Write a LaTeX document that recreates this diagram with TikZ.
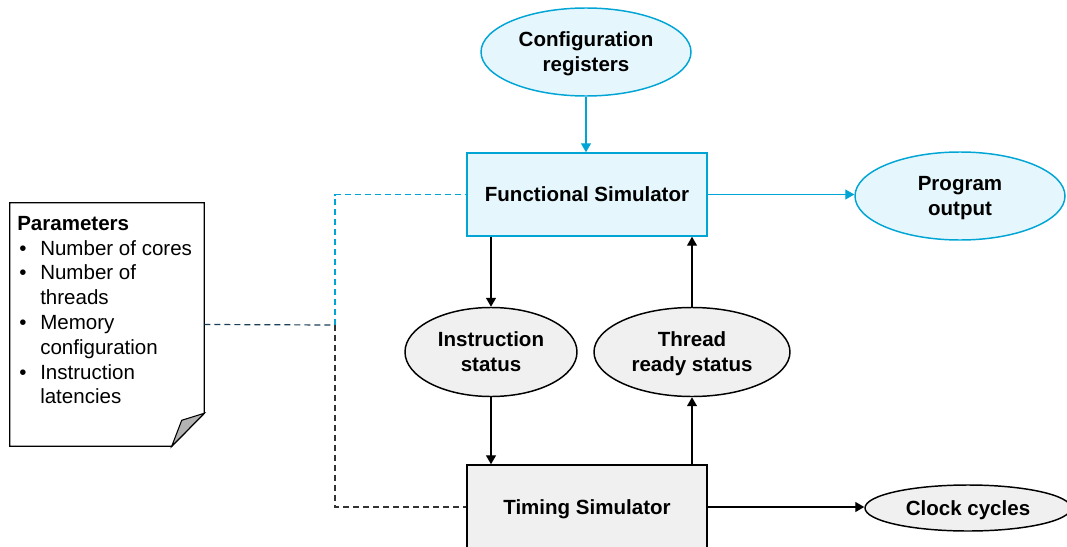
\documentclass[tikz,border=0pt]{standalone}
\usepackage{fontspec}
\setmainfont{Liberation Sans}
\usetikzlibrary{shapes.geometric,arrows.meta,calc}
\definecolor{cyanline}{HTML}{00A5D5}
\definecolor{cyanfill}{HTML}{E5F6FC}
\definecolor{grayfill}{HTML}{F0F0F0}
\definecolor{navydash}{HTML}{1A3E55}
\definecolor{darkdash}{HTML}{333333}
\newcommand{\bul}{\hspace*{1.5pt}\makebox[15.75pt][l]{\textbullet}}
\newcommand{\ind}{\hspace*{17.25pt}}
\begin{document}
\begin{tikzpicture}[x=0.75pt,y=-0.75pt,
  lbl/.style={font=\fontsize{15.4}{18.7}\selectfont\bfseries, align=center, text depth=0pt},
  bluebox/.style={rectangle, draw=cyanline, fill=cyanfill, line width=1.1pt, minimum width=180pt, minimum height=62.25pt, lbl},
  graybox/.style={rectangle, draw=black, fill=grayfill, line width=1.1pt, minimum width=180pt, minimum height=63pt, lbl},
  blueoval/.style={ellipse, draw=cyanline, fill=cyanfill, line width=1.1pt, inner sep=0pt, lbl},
  grayoval/.style={ellipse, draw=black, fill=grayfill, line width=1.1pt, inner sep=0pt, lbl},
  blueflow/.style={draw=cyanline, line width=1pt, -{Triangle[length=6.75pt,width=7.5pt]}},
  flow/.style={draw=black, line width=1pt, -{Triangle[length=6.75pt,width=7.5pt]}},
  dashlink/.style={line width=0.9pt, dash pattern=on 4.5pt off 3pt}
]
\useasboundingbox (0,0) rectangle (1067,546);
\begin{scope}
\clip (0,0) rectangle (1067,546);

% simulator blocks
\node[bluebox] (fs) at (587,194.5) {Functional Simulator};
\node[graybox] (ts) at (587,507) {Timing Simulator};

% data ovals
\node[blueoval, minimum width=157.5pt, minimum height=66pt] (cfg) at (586,52) {Configuration\\registers};
\node[blueoval, minimum width=157.5pt, minimum height=66pt] (out) at (960,196) {Program\\output};
\node[grayoval, minimum width=129pt, minimum height=66.75pt] (is) at (491,352) {Instruction\\status};
\node[grayoval, minimum width=147pt, minimum height=66.75pt] (tr) at (692,352) {Thread\\ready status};
\node[grayoval, minimum width=154.5pt, minimum height=34.5pt] (cc) at (968,508) {Clock cycles};

% parameter sheet with folded corner
\node[rectangle, minimum width=145.5pt, minimum height=182.25pt, inner sep=0pt] (par) at (107,324.5) {};
\draw[line width=1pt, fill=white]
  (par.north west) -- (par.north east) -- ($(par.south east)+(0,-33)$)
  -- ($(par.south west)+(162,0)$) -- (par.south west) -- cycle;
\draw[line width=0.8pt, fill=black!30]
  ($(par.south east)+(0,-33)$) -- ($(par.south west)+(172,-26)$) -- ($(par.south west)+(162,0)$) -- cycle;
\node[anchor=north west, align=left, inner sep=0pt,
      font=\fontsize{15.4}{18.6}\selectfont] (ptext) at (17,216)
  {\textbf{Parameters}\\
   \bul Number of cores\\
   \bul Number of\\
   \ind threads\\
   \bul Memory\\
   \ind configuration\\
   \bul Instruction\\
   \ind latencies};

% flow between blocks
\draw[blueflow] (cfg.south) -- (fs.north -| cfg.south);
\draw[blueflow] (fs.east) -- (fs.east -| out.west);
\draw[flow] (fs.south -| is.north) -- (is.north);
\draw[flow] (tr.north) -- (fs.south -| tr.north);
\draw[flow] (is.south) -- (ts.north -| is.south);
\draw[flow] (ts.north -| tr.south) -- (tr.south);
\draw[flow] (ts.east) -- (ts.east -| cc.west);

% parameter links
\coordinate (j) at (335,325);
\draw[dashlink, navydash] (par.east) -- (j);
\draw[dashlink, cyanline] (j) |- (fs.west);
\draw[dashlink, darkdash] (j) |- (ts.west);
\end{scope}
\end{tikzpicture}
\end{document}
